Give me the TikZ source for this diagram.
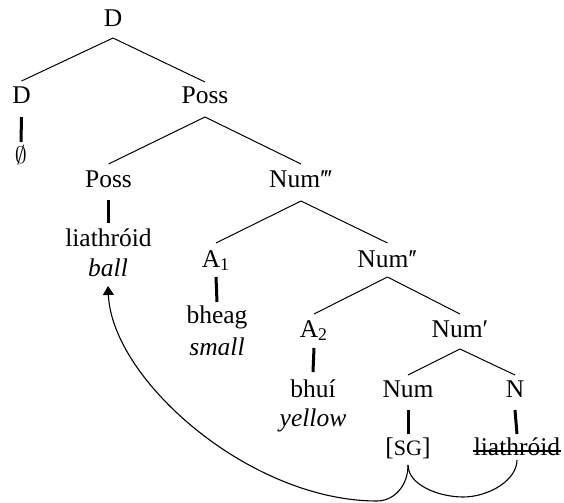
\documentclass[tikz,border=0pt]{standalone}
\usepackage{fontspec}
\setmainfont{Liberation Serif}
\usetikzlibrary{arrows.meta}
\newcommand{\pr}{′}
\begin{document}
\begin{tikzpicture}[x=0.5pt,y=-0.5pt,
  lab/.style={anchor=base,inner sep=0pt,font=\fontsize{12.75pt}{15pt}\selectfont},
  gl/.style={anchor=base,inner sep=0pt,font=\fontsize{12.75pt}{15pt}\selectfont\itshape},
  edge/.style={line width=0.5pt},
  bar/.style={line width=1.5pt},
  mv/.style={line width=0.55pt}]
\useasboundingbox (0,0) rectangle (564,503);
% nodes
\node[lab] (Dt) at (113,26) {D};
\node[lab] (Dc) at (21.5,104) {D};
\node[lab] (emp) at (21,163) {$\emptyset$};
\node[lab] (P1) at (205,104) {Poss};
\node[lab] (P2) at (108.5,187) {Poss};
\node[lab] (L1) at (108.5,247) {liathróid};
\node[gl] (ball) at (108,277) {ball};
\node[lab] (N3) at (301,187) {Num\pr\kern-0.08em\pr\kern-0.08em\pr};
\node[lab] (A1) at (216,267) {A\textsubscript{1}};
\node[lab] (bheag) at (217,323) {bheag};
\node[gl] (small) at (217,356) {small};
\node[lab] (N2) at (387.5,267) {Num\pr\kern-0.08em\pr};
\node[lab] (A2) at (314,337) {A\textsubscript{2}};
\node[lab] (bhui) at (313,397) {bhuí};
\node[gl] (yellow) at (313,427) {yellow};
\node[lab] (N1) at (460,337) {Num\pr};
\node[lab] (Num) at (408,397) {Num};
\node[lab] (N) at (515,397) {N};
\node[lab] (SG) at (408,455) {[{\fontsize{11pt}{13pt}\selectfont SG}]};
\node[lab] (L2) at (517,455) {liathróid};
% branches
\draw[edge] ([yshift=-6pt]Dt.base) -- ([yshift=11.5pt]Dc.base);
\draw[edge] ([yshift=-6pt]Dt.base) -- ([yshift=11pt]P1.base);
\draw[edge] ([yshift=-6.5pt]P1.base) -- ([yshift=11.5pt]P2.base);
\draw[edge] ([yshift=-6.5pt]P1.base) -- ([yshift=11.5pt]N3.base);
\draw[edge] ([yshift=-7pt]N3.base) -- ([yshift=12pt]A1.base);
\draw[edge] ([yshift=-7pt]N3.base) -- ([yshift=12pt]N2.base);
\draw[edge] ([yshift=-5pt]N2.base) -- ([yshift=11.5pt]A2.base);
\draw[edge] ([yshift=-5pt]N2.base) -- ([yshift=11.5pt]N1.base);
\draw[edge] ([yshift=-6pt]N1.base) -- ([yshift=11pt]Num.base);
\draw[edge] ([yshift=-6pt]N1.base) -- ([yshift=11pt]N.base);
% bars
\draw[bar] ([yshift=-6.5pt]Dc.base) -- ([yshift=10.5pt]emp.base);
\draw[bar] ([yshift=-6.5pt]P2.base) -- ([yshift=12pt]L1.base);
\draw[bar] ([yshift=-5pt]A1.base) -- ([yshift=10.5pt]bheag.base);
\draw[bar] ([yshift=-5.5pt]A2.base) -- ([yshift=12.5pt]bhui.base);
\draw[bar] ([yshift=-6.5pt]Num.base) -- ([yshift=10.5pt]SG.base);
\draw[bar] ([yshift=-6.5pt]N.base) -- ([yshift=10.5pt]L2.base);
% strike-through
\draw[line width=0.65pt] ([yshift=2pt]L2.base west) -- ([yshift=2pt]L2.base east);
% movement curves
\coordinate (sgb) at ([yshift=-5pt]SG.base);
\coordinate (low) at (377,501);
\coordinate (mid) at (463,497);
\coordinate (ltip) at ([yshift=-4.5pt]ball.base);
\coordinate (lb) at ([yshift=-2.5pt]L2.base);
\draw[mv,-{Triangle[length=4.5pt,width=5.5pt]}] (sgb) .. controls +(0,22) and +(16,0) .. (low)
  .. controls +(-127,0) and +(4,94) .. (ltip);
\draw[mv] (sgb) .. controls +(0,20) and +(-24,0) .. (mid)
  .. controls +(26,0) and +(0,20) .. (lb);
\end{tikzpicture}
\end{document}
